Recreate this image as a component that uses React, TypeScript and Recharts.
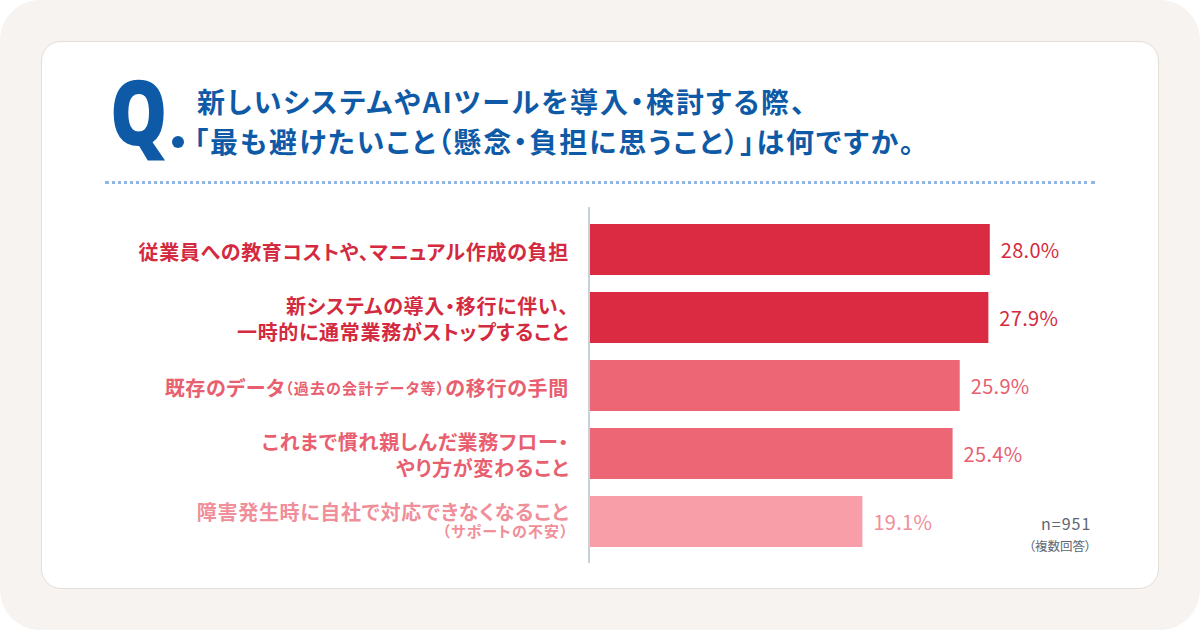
import React from "react";
import { BarChart, Bar, XAxis, YAxis, Cell } from "recharts";

const CATEGORIES = [
  "従業員への教育コストや、マニュアル作成の負担",
  "新システムの導入・移行に伴い、\n一時的に通常業務がストップすること",
  "既存のデータ（過去の会計データ等）の移行の手間",
  "これまで慣れ親しんだ業務フロー・\nやり方が変わること",
  "障害発生時に自社で対応できなくなること\n（サポートの不安）",
];
const VALUES = [28.0, 27.9, 25.9, 25.4, 19.1];

const BAR_COLORS = ["#db2b42", "#db2b42", "#ec6675", "#ec6675", "#f79ea8"];
const TEXT_COLORS = ["#d42a40", "#d42a40", "#e8606f", "#e8606f", "#f08e99"];

const FONT = "'Noto Sans CJK JP', 'Noto Sans', sans-serif";
const BLUE = "#0e5aa7";

const data = CATEGORIES.map((name, i) => ({ name, value: VALUES[i] }));

// parenthesised notes are set smaller than the rest of the label
function renderSegments(line: string) {
  const parts = line.split(/(（[^）]*）)/).filter((p) => p.length > 0);
  return parts.map((p, i) =>
    p.startsWith("（") ? (
      <tspan key={i} fontSize={15} letterSpacing={1.2}>
        {p}
      </tspan>
    ) : (
      <tspan key={i} fontSize={20} letterSpacing={0.7}>
        {p}
      </tspan>
    )
  );
}

function CategoryTick(props: any) {
  const { x, y, payload } = props;
  const idx = CATEGORIES.indexOf(payload.value);
  const lines: string[] = String(payload.value).split("\n");
  let offsets = [1.5];
  if (lines.length === 2) {
    offsets = lines[1].startsWith("（") ? [-10, 8.5] : [-12, 14];
  }
  return (
    <g>
      {lines.map((line, i) => (
        <text
          key={i}
          x={x}
          y={y + offsets[i]}
          textAnchor="end"
          dominantBaseline="central"
          fill={TEXT_COLORS[idx]}
          fontFamily={FONT}
          fontWeight={700}
          fontSize={20}
          style={{ fontFeatureSettings: "'palt'" }}
        >
          {renderSegments(line)}
        </text>
      ))}
    </g>
  );
}

function renderValue(props: any) {
  const { x, y, width, height, value, index } = props;
  return (
    <text
      x={x + width + 11}
      y={y + height / 2}
      dominantBaseline="central"
      fill={TEXT_COLORS[index]}
      fontFamily={FONT}
      fontSize={20}
      letterSpacing={0.3}
    >
      {Number(value).toFixed(1)}%
    </text>
  );
}

export default function App() {
  return (
    <div
      style={{
        position: "absolute",
        left: 0,
        top: 0,
        width: 1200,
        height: 630,
        background: "#ffffff",
        fontFamily: FONT,
      }}
    >
      <div
        style={{
          position: "absolute",
          inset: 0,
          background: "#f6f3f0",
          borderRadius: 40,
        }}
      />
      <div
        style={{
          position: "absolute",
          left: 41,
          top: 41,
          width: 1116,
          height: 546,
          background: "#ffffff",
          border: "1.5px solid #e5ded7",
          borderRadius: 20,
        }}
      />
      <div
        style={{
          position: "absolute",
          left: 110,
          top: 55,
          fontFamily: "'Noto Sans', sans-serif",
          fontWeight: 900,
          fontSize: 90,
          lineHeight: "110px",
          color: BLUE,
          transform: "scaleX(0.8)",
          transformOrigin: "left top",
        }}
      >
        Q
      </div>
      <div
        style={{
          position: "absolute",
          left: 172,
          top: 136,
          width: 12,
          height: 12,
          borderRadius: "50%",
          background: BLUE,
        }}
      />
      <div
        style={{
          position: "absolute",
          left: 197,
          top: 81,
          fontWeight: 700,
          fontSize: 28,
          lineHeight: "40px",
          letterSpacing: 2,
          color: BLUE,
          whiteSpace: "nowrap",
          fontFeatureSettings: "'palt'",
        }}
      >
        <div>新しいシステムやAIツールを導入・検討する際、</div>
        <div style={{ marginLeft: -3 }}>
          「最も避けたいこと（懸念・負担に思うこと）」は何ですか。
        </div>
      </div>
      <div
        style={{
          position: "absolute",
          left: 105,
          top: 181,
          width: 990,
          borderTop: "3px dotted #8fb7e2",
        }}
      />
      <div style={{ position: "absolute", left: 100, top: 207 }}>
        <BarChart
          width={990}
          height={356}
          layout="vertical"
          data={data}
          margin={{ top: 0, right: 0, bottom: 0, left: 0 }}
          barCategoryGap={17}
        >
          <XAxis type="number" domain={[0, 35]} hide />
          <YAxis
            type="category"
            dataKey="name"
            width={489}
            tickSize={0}
            tickMargin={20}
            axisLine={{ stroke: "#c9d0da", strokeWidth: 2 }}
            tickLine={false}
            tick={<CategoryTick />}
            padding={{ top: 8, bottom: 8 }}
            interval={0}
          />
          <Bar
            dataKey="value"
            barSize={51}
            isAnimationActive={false}
            label={renderValue}
          >
            {data.map((_, i) => (
              <Cell key={i} fill={BAR_COLORS[i]} />
            ))}
          </Bar>
        </BarChart>
      </div>
      <div
        style={{
          position: "absolute",
          left: 1041,
          top: 513,
          width: 50,
          textAlign: "center",
          color: "#5d6672",
          fontSize: 16,
          lineHeight: "20px",
          letterSpacing: 1,
        }}
      >
        n=951
      </div>
      <div
        style={{
          position: "absolute",
          left: 1020,
          top: 537,
          width: 80,
          textAlign: "center",
          color: "#5d6672",
          fontSize: 12.5,
          lineHeight: "18px",
          fontFeatureSettings: "'palt'",
        }}
      >
        （複数回答）
      </div>
    </div>
  );
}
